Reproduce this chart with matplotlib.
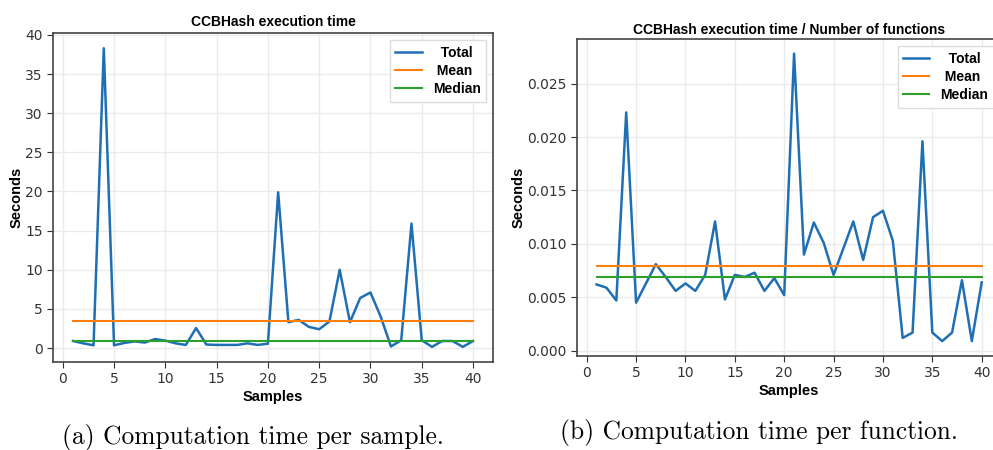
import numpy as np
import matplotlib
matplotlib.use("Agg")
import matplotlib.pyplot as plt

# values
samples = list(range(1, 41))
total_time = [0.9, 0.6, 0.35, 38.3, 0.35, 0.65, 0.85, 0.7, 1.15, 0.95,
              0.6, 0.4, 2.55, 0.45, 0.4, 0.4, 0.4, 0.6, 0.4, 0.55,
              19.9, 3.3, 3.6, 2.7, 2.4, 3.4, 10.0, 3.3, 6.4, 7.1,
              4.0, 0.2, 1.0, 15.9, 1.0, 0.15, 0.9, 0.9, 0.15, 0.9]
mean_time = 3.45
median_time = 0.95

per_function = [0.0062, 0.0059, 0.0047, 0.0223, 0.0045, 0.0063, 0.0081, 0.0069, 0.0056, 0.0063,
                0.0056, 0.0071, 0.0121, 0.0048, 0.0071, 0.0069, 0.0073, 0.0056, 0.0068, 0.0052,
                0.0278, 0.0090, 0.0120, 0.0101, 0.0071, 0.0096, 0.0121, 0.0085, 0.0125, 0.0131,
                0.0103, 0.0012, 0.0017, 0.0196, 0.0017, 0.0009, 0.0017, 0.0066, 0.0009, 0.0064]
mean_func = 0.00795
median_func = 0.00686

titles = ["CCBHash execution time", "CCBHash execution time / Number of functions"]
captions = ["(a) Computation time per sample.", "(b) Computation time per function."]

BLUE = "#1f6fb4"
ORANGE = "#ff7f0e"
GREEN = "#2ca02c"
BOLD = {"family": "Liberation Sans", "weight": "bold"}

fig = plt.figure(figsize=(9.93, 4.5), dpi=100)
ax1 = fig.add_axes([0.0534, 0.1960, 0.4431, 0.7300])
ax2 = fig.add_axes([0.5814, 0.2100, 0.4266, 0.7027])


def draw(ax, y, mean, median, title, tpad):
    ax.plot(samples, y, color=BLUE, lw=1.8, label="  Total", zorder=3)
    ax.plot(samples, [mean] * len(samples), color=ORANGE, lw=1.5, label=" Mean", zorder=3)
    ax.plot(samples, [median] * len(samples), color=GREEN, lw=1.5, label="Median", zorder=3)
    ax.set_title(title, fontsize=10, pad=tpad, **BOLD)
    ax.set_xlabel("Samples", fontsize=10.5, labelpad=3, **BOLD)
    ax.set_ylabel("Seconds", fontsize=10.5, labelpad=1, **BOLD)
    ax.set_xticks(range(0, 41, 5))
    ax.grid(True, color="#ebebeb", lw=1)
    ax.set_axisbelow(True)
    ax.tick_params(labelsize=10, colors="#333333", length=4)
    for s in ax.spines.values():
        s.set_color("#444444")
        s.set_linewidth(1.2)
    leg = ax.legend(loc="upper right", prop={"family": "Liberation Sans", "weight": "bold", "size": 10},
                    handlelength=1.9, fancybox=False, framealpha=1, edgecolor="#dddddd",
                    borderaxespad=0.5, labelspacing=0.3)
    return leg


draw(ax1, total_time, mean_time, median_time, titles[0], 5)
draw(ax2, per_function, mean_func, median_func, titles[1], 4)
ax2.set_yticks([0.0, 0.005, 0.010, 0.015, 0.020, 0.025])
ax2.yaxis.set_major_formatter(matplotlib.ticker.FormatStrFormatter("%.3f"))

fig.text(0.255, 0.028, captions[0], family="cmr10", fontsize=18.3, ha="center", va="center")
fig.text(0.764, 0.04, captions[1], family="cmr10", fontsize=18.3, ha="center", va="center")

fig.savefig("out.png", dpi=100)
